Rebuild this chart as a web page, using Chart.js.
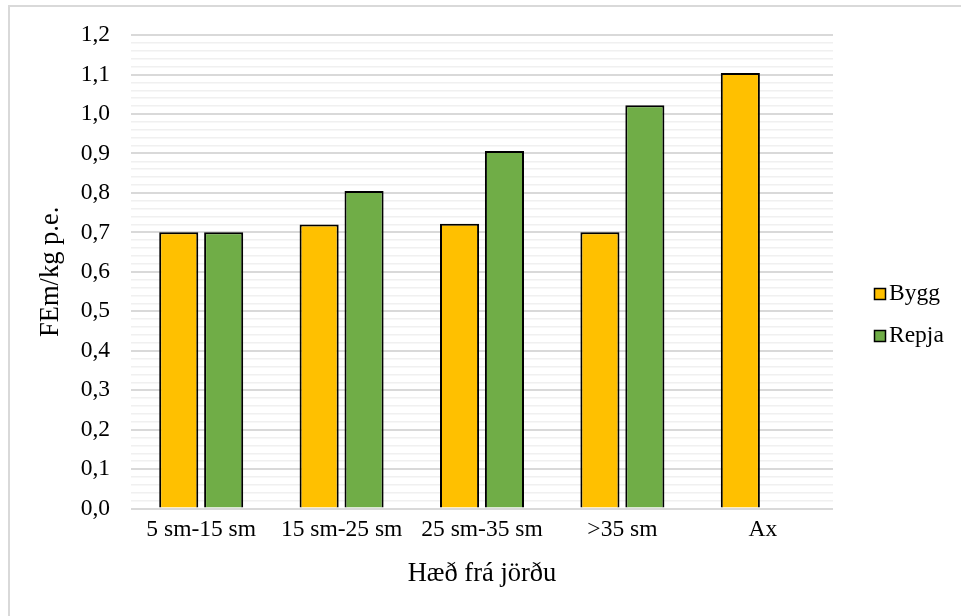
<!DOCTYPE html>
<html>
<head>
<meta charset="utf-8">
<script src="https://cdn.jsdelivr.net/npm/chart.js@4/dist/chart.umd.min.js"></script>
<style>
  html, body { margin: 0; padding: 0; background: #ffffff; overflow: hidden; }
  #wrap { position: relative; width: 961px; height: 616px; overflow: hidden; }
  #frame { position: absolute; left: 8px; top: 5px; width: 1000px; height: 1000px;
           border: 2px solid #d9d9d9; box-sizing: border-box; pointer-events: none; }
  canvas { position: absolute; left: 0; top: 0; }
</style>
</head>
<body>
<div id="wrap">
  <canvas id="chart" width="961" height="616"></canvas>
  <div id="frame"></div>
</div>
<script>
// Hæð frá jörðu — fóðurgildi eftir hæð
const categories = ['5 sm-15 sm', '15 sm-25 sm', '25 sm-35 sm', '>35 sm', 'Ax'];
const byggValues = [0.70, 0.72, 0.722, 0.70, 1.104];
const repjaValues = [0.70, 0.805, 0.906, 1.022, null];
const seriesNames = ['Bygg', 'Repja'];
const seriesColors = ['#FFC000', '#70AD47'];

const FONT = "'Liberation Serif', 'Times New Roman', serif";

// legend drawn at the right, box + label close together
const sideLegend = {
  id: 'sideLegend',
  afterDraw(chart) {
    const ctx = chart.ctx;
    ctx.save();
    ctx.font = '23.5px ' + FONT;
    ctx.textBaseline = 'middle';
    ctx.textAlign = 'left';
    chart.data.datasets.forEach((ds, i) => {
      const cy = 294 + i * 42;
      ctx.fillStyle = ds.backgroundColor;
      ctx.fillRect(874.5, cy - 5.5, 11, 11);
      ctx.lineWidth = 1.5;
      ctx.strokeStyle = '#000000';
      ctx.strokeRect(874.5, cy - 5.5, 11, 11);
      ctx.fillStyle = '#000000';
      ctx.fillText(ds.label, 889, cy);
    });
    ctx.restore();
  }
};

const isMajor = v => Math.abs(v * 10 - Math.round(v * 10)) < 1e-6;

new Chart(document.getElementById('chart'), {
  type: 'bar',
  data: {
    labels: categories,
    datasets: [
      { label: seriesNames[0], data: byggValues, backgroundColor: seriesColors[0],
        borderColor: '#000000', borderWidth: 2 },
      { label: seriesNames[1], data: repjaValues, backgroundColor: seriesColors[1],
        borderColor: '#000000', borderWidth: 2 }
    ]
  },
  options: {
    responsive: false,
    animation: false,
    devicePixelRatio: 1,
    categoryPercentage: 0.64,
    barPercentage: 0.87,
    layout: { padding: { top: 34, right: 128, bottom: 0, left: 0 } },
    plugins: {
      legend: { display: false },
      tooltip: { enabled: false }
    },
    scales: {
      x: {
        grid: { display: false, drawTicks: false },
        border: { display: false },
        ticks: { color: '#000000', font: { family: FONT, size: 23.5 }, padding: 7,
                 maxRotation: 0, autoSkip: false },
        title: { display: true, text: 'Hæð frá jörðu', color: '#000000',
                 font: { family: FONT, size: 26.5 }, padding: { top: 0, bottom: 26 } },
        afterFit(s) { s.height = 107.5; }
      },
      y: {
        min: 0,
        max: 1.2,
        grid: {
          drawTicks: false,
          color: c => isMajor(c.tick.value) ? '#d9d9d9' : '#f0f0f0',
          lineWidth: c => isMajor(c.tick.value) ? 2 : 1.5
        },
        border: { display: false },
        ticks: {
          stepSize: 0.02,
          autoSkip: false,
          padding: 21,
          color: '#000000',
          font: { family: FONT, size: 23.5 },
          callback: v => isMajor(v) ? v.toFixed(1).replace('.', ',') : ''
        },
        title: { display: true, text: 'FEm/kg p.e.', color: '#000000',
                 font: { family: FONT, size: 26.5 }, padding: { top: 35, bottom: 0 } },
        afterFit(s) { s.width = 131; }
      }
    }
  },
  plugins: [sideLegend]
});
</script>
</body>
</html>
